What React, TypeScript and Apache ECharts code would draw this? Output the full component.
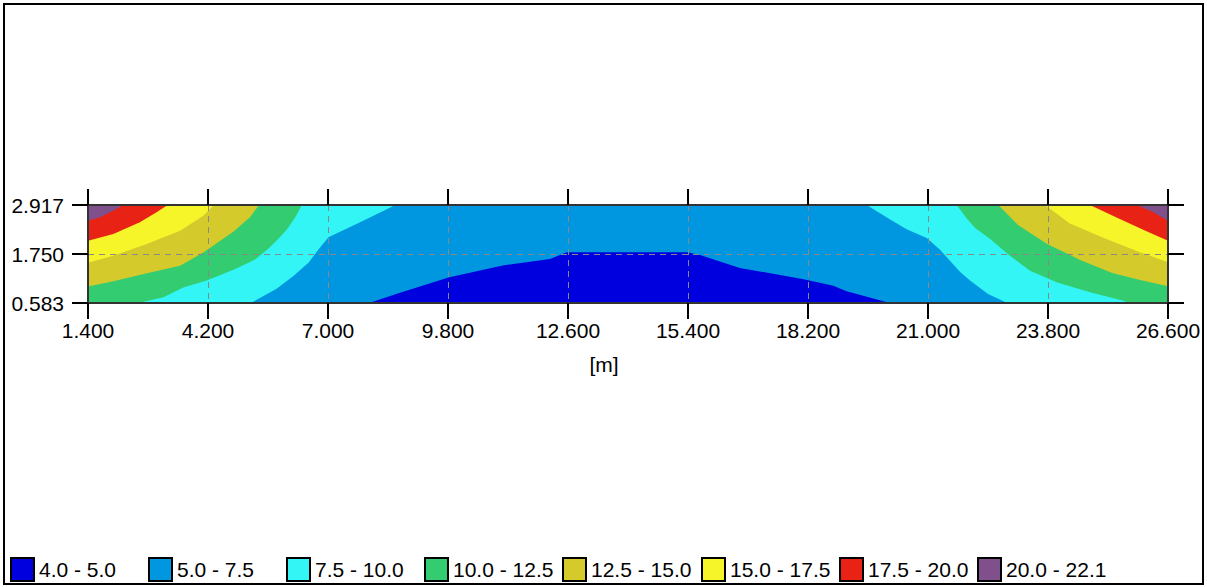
import React, { useEffect, useRef } from "react";
import * as echarts from "echarts";

// Axis extents and ticks
const X_MIN = 1.4;
const X_MAX = 26.6;
const Y_MIN = 0.583;
const Y_MAX = 2.917;
const xTicks = [1.4, 4.2, 7.0, 9.8, 12.6, 15.4, 18.2, 21.0, 23.8, 26.6];
const yTicks = [0.583, 1.75, 2.917];
const xAxisName = "[m]";

// Legend bands
const bandLabels = [
  "4.0 - 5.0",
  "5.0 - 7.5",
  "7.5 - 10.0",
  "10.0 - 12.5",
  "12.5 - 15.0",
  "15.0 - 17.5",
  "17.5 - 20.0",
  "20.0 - 22.1",
];
const bandColors = [
  "#0000de",
  "#0096e0",
  "#33f5f5",
  "#33cc70",
  "#d4ca2c",
  "#f5f52a",
  "#e82214",
  "#7f508c",
];

// Contour lines, [x (m), y]
// level 5.0 : the low "hill" at the bottom centre (region below 5.0)
const contour5 = [
  [7.96, 0.583], [8.68, 0.83], [9.81, 1.19], [11.1, 1.48], [12.18, 1.63], [12.57, 1.79],
  [15.38, 1.79], [15.68, 1.726], [16.61, 1.417], [18.1, 1.15], [18.79, 0.995], [19.1, 0.862], [20.11, 0.583],
];
// left side contours (from bottom/left edge up to the top edge)
const left75 = [
  [5.2, 0.583], [5.8, 0.92], [6.2, 1.23], [6.55, 1.55], [6.81, 1.9], [7.01, 2.15],
  [7.75, 2.505], [8.49, 2.876], [8.55, 2.917],
];
const left10 = [
  [2.57, 0.583], [3.16, 0.72], [3.62, 0.95], [4.17, 1.12], [4.85, 1.4], [5.3, 1.62],
  [5.6, 1.87], [5.85, 2.12], [6.06, 2.36], [6.25, 2.65], [6.39, 2.917],
];
const left125 = [
  [1.4, 0.975], [1.99, 1.1], [2.8, 1.3], [3.55, 1.471], [4.1, 1.79], [4.79, 2.28],
  [5.18, 2.624], [5.39, 2.917],
];
const left15 = [
  [1.4, 1.54], [1.99, 1.71], [2.77, 1.988], [3.55, 2.305], [4.09, 2.662], [4.34, 2.917],
];
const left175 = [
  [1.4, 2.067], [1.99, 2.226], [2.61, 2.505], [3.0, 2.743], [3.26, 2.917],
];
const left20 = [[1.4, 2.543], [1.68, 2.624], [1.99, 2.781], [2.22, 2.917]];
// right side contours (from the top edge down to the right/bottom edge)
const right75 = [
  [19.57, 2.917], [20.04, 2.62], [20.5, 2.34], [20.97, 2.13], [21.28, 1.85],
  [21.75, 1.32], [21.98, 1.12], [22.4, 0.8], [22.85, 0.583],
];
const right10 = [
  [21.67, 2.917], [21.9, 2.6], [22.1, 2.37], [22.45, 2.107], [22.91, 1.71], [23.38, 1.352],
  [24.0, 1.076], [24.78, 0.838], [25.56, 0.638], [25.67, 0.583],
];
const right125 = [
  [22.64, 2.917], [23.1, 2.44], [23.78, 1.99], [24.55, 1.61], [25.3, 1.3], [25.95, 1.13], [26.6, 0.981],
];
const right15 = [
  [23.73, 2.917], [24.3, 2.48], [25.1, 2.13], [25.9, 1.81], [26.6, 1.552],
];
const right175 = [[24.78, 2.917], [25.4, 2.62], [26.06, 2.31], [26.6, 2.067]];
const right20 = [[25.87, 2.917], [26.26, 2.743], [26.6, 2.543]];

const FONT = "'Liberation Sans', Arial, sans-serif";
const FONT_SIZE = 21;

function leftRegion(c: number[][]) {
  const pts = c.slice();
  pts.push([X_MIN, Y_MAX]);
  if (c[0][1] === Y_MIN) pts.push([X_MIN, Y_MIN]);
  return pts;
}
function rightRegion(c: number[][]) {
  const pts = c.slice();
  if (c[c.length - 1][1] === Y_MIN) pts.push([X_MAX, Y_MIN]);
  pts.push([X_MAX, Y_MAX]);
  return pts;
}

const bandPolygons: number[][][][] = [
  [contour5],
  [[[X_MIN, Y_MIN], [X_MAX, Y_MIN], [X_MAX, Y_MAX], [X_MIN, Y_MAX]]],
  [leftRegion(left75), rightRegion(right75)],
  [leftRegion(left10), rightRegion(right10)],
  [leftRegion(left125), rightRegion(right125)],
  [leftRegion(left15), rightRegion(right15)],
  [leftRegion(left175), rightRegion(right175)],
  [leftRegion(left20), rightRegion(right20)],
];

function buildOption() {
  const series = bandLabels.map((name, b) => ({
    type: "custom",
    name,
    coordinateSystem: "cartesian2d",
    xAxisIndex: 0,
    yAxisIndex: 0,
    z: b === 1 ? 1 : 2,
    itemStyle: { color: bandColors[b] },
    data: bandPolygons[b].map((p, i) => [p[0][0], p[0][1], i]),
    renderItem: (params: any, api: any) => {
      const poly = bandPolygons[b][params.dataIndex];
      return {
        type: "polygon",
        shape: { points: poly.map((pt) => api.coord(pt)) },
        style: { fill: bandColors[b], stroke: null },
      };
    },
  }));

  const tickStyle = { show: true, length: 16, lineStyle: { color: "#000", width: 2 } };
  const lineStyle = { show: true, lineStyle: { color: "#333", width: 2 } };

  const legends = bandLabels.map((label, i) => ({
    data: [label],
    left: Math.round(10 + i * 138.1),
    top: 557,
    padding: 0,
    orient: "horizontal",
    itemWidth: 23,
    itemHeight: 23,
    itemGap: 0,
    icon: "rect",
    itemStyle: { borderColor: "#000", borderWidth: 2 },
    textStyle: { color: "#000", fontSize: FONT_SIZE, fontFamily: FONT },
    selectedMode: false,
  }));

  return {
    animation: false,
    backgroundColor: "#fff",
    grid: { left: 88, top: 205, width: 1080, height: 98, containLabel: false },
    xAxis: [
      {
        type: "value",
        position: "bottom",
        min: X_MIN,
        max: X_MAX,
        z: 5,
        axisLine: lineStyle,
        axisTick: { ...tickStyle, customValues: xTicks },
        axisLabel: {
          customValues: xTicks,
          formatter: (v: number) => v.toFixed(3),
          color: "#000",
          fontSize: FONT_SIZE,
          fontFamily: FONT,
          margin: 17,
        },
        splitLine: { show: true, lineStyle: { color: "#888", width: 1, type: [6, 5] } },
      },
      {
        type: "value",
        position: "top",
        min: X_MIN,
        max: X_MAX,
        z: 5,
        axisLine: lineStyle,
        axisTick: { ...tickStyle, customValues: xTicks },
        axisLabel: { show: false, customValues: xTicks },
        splitLine: { show: false },
      },
    ],
    yAxis: [
      {
        type: "value",
        position: "left",
        min: Y_MIN,
        max: Y_MAX,
        z: 5,
        axisLine: lineStyle,
        axisTick: { ...tickStyle, customValues: yTicks },
        axisLabel: {
          customValues: yTicks,
          formatter: (v: number) => v.toFixed(3),
          color: "#000",
          fontSize: FONT_SIZE,
          fontFamily: FONT,
          margin: 24,
        },
        splitLine: { show: true, lineStyle: { color: "#888", width: 1, type: [6, 5] } },
      },
      {
        type: "value",
        position: "right",
        min: Y_MIN,
        max: Y_MAX,
        z: 5,
        axisLine: lineStyle,
        axisTick: { ...tickStyle, customValues: yTicks },
        axisLabel: { show: false, customValues: yTicks },
        splitLine: { show: false },
      },
    ],
    legend: legends,
    graphic: [
      {
        type: "rect",
        shape: { x: 4, y: 4, width: 1199, height: 580 },
        style: { fill: "none", stroke: "#000", lineWidth: 2 },
        z: 10,
        silent: true,
      },
      {
        type: "text",
        x: 604,
        y: 364,
        style: {
          text: xAxisName,
          fill: "#000",
          font: `${FONT_SIZE}px ${FONT}`,
          align: "center",
          verticalAlign: "middle",
        },
      },
    ],
    series,
  };
}

export default function App() {
  const ref = useRef<HTMLDivElement>(null);
  useEffect(() => {
    document.body.style.margin = "0";
    const chart = echarts.init(ref.current as HTMLDivElement, null, { renderer: "svg" });
    chart.setOption(buildOption() as any);
    return () => chart.dispose();
  }, []);
  return <div ref={ref} style={{ width: 1207, height: 587 }} />;
}
